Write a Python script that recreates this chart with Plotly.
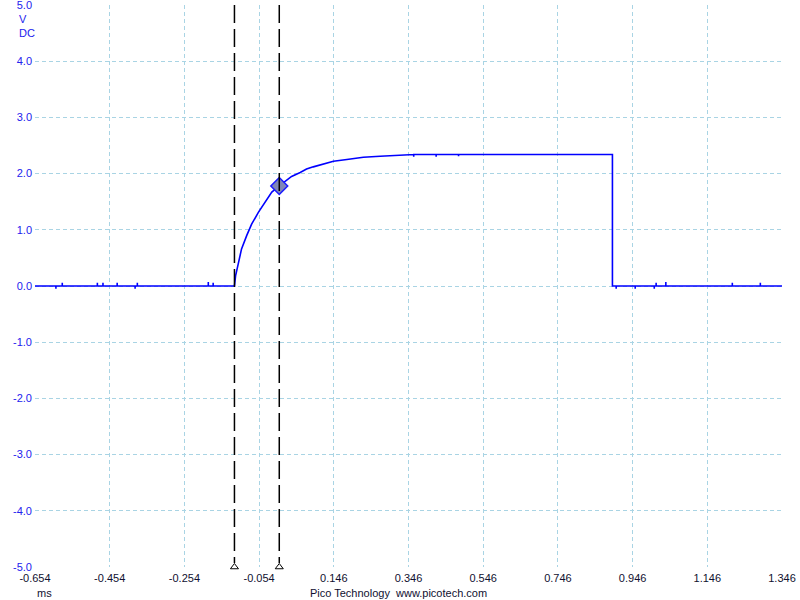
import plotly.graph_objects as go

# ---- data (time in ms, voltage in V) ----
time_ms = [-0.654, -0.598, -0.598, -0.598, -0.581, -0.581, -0.581, -0.487, -0.487, -0.487,
           -0.472, -0.472, -0.472, -0.434, -0.434, -0.434, -0.386, -0.386, -0.386,
           -0.380, -0.380, -0.380, -0.190, -0.190, -0.190, -0.177, -0.177, -0.177,
           -0.120, -0.117, -0.110, -0.101, -0.087, -0.074, -0.056, -0.038, -0.020,
           0.000, 0.015, 0.033, 0.056, 0.073, 0.091, 0.118, 0.145, 0.181, 0.225,
           0.270, 0.314, 0.360, 0.360, 0.360, 0.420, 0.420, 0.420, 0.480, 0.480, 0.480,
           0.892, 0.892, 0.902, 0.902, 0.902, 0.953, 0.953, 0.953, 1.004, 1.004, 1.004,
           1.009, 1.009, 1.009, 1.035, 1.035, 1.035, 1.213, 1.213, 1.213,
           1.288, 1.288, 1.288, 1.346]
volts = [0.0, 0.0, -0.05, 0.0, 0.0, 0.06, 0.0, 0.0, 0.06, 0.0,
         0.0, 0.06, 0.0, 0.0, 0.06, 0.0, 0.0, -0.05, 0.0,
         0.0, 0.06, 0.0, 0.0, 0.07, 0.0, 0.0, 0.06, 0.0,
         0.0, 0.18, 0.39, 0.66, 0.90, 1.10, 1.31, 1.49, 1.67,
         1.78, 1.85, 1.95, 2.02, 2.08, 2.12, 2.17, 2.22, 2.25, 2.29,
         2.31, 2.33, 2.34, 2.30, 2.34, 2.34, 2.30, 2.34, 2.34, 2.31, 2.34,
         2.34, 0.0, 0.0, -0.05, 0.0, 0.0, -0.05, 0.0, 0.0, -0.05, 0.0,
         0.0, 0.06, 0.0, 0.0, 0.07, 0.0, 0.0, 0.06, 0.0,
         0.0, 0.06, 0.0, 0.0]

cursor_times = [-0.120, 0.000]
marker_time = [0.000]
marker_volts = [1.78]

x_ticks = [-0.654, -0.454, -0.254, -0.054, 0.146, 0.346, 0.546, 0.746, 0.946, 1.146, 1.346]
x_tick_labels = ["-0.654", "-0.454", "-0.254", "-0.054", "0.146", "0.346",
                 "0.546", "0.746", "0.946", "1.146", "1.346"]
y_ticks = [5, 4, 3, 2, 1, 0, -1, -2, -3, -4, -5]
y_tick_labels = ["5.0", "4.0", "3.0", "2.0", "1.0", "0.0", "-1.0", "-2.0", "-3.0", "-4.0", "-5.0"]

FONT = "Liberation Sans, Arial, sans-serif"
GRID = "#a9d4e4"

fig = go.Figure()

fig.add_trace(go.Scatter(
    x=time_ms, y=volts, mode="lines",
    line=dict(color="#0000ff", width=1.6),
    hoverinfo="skip", showlegend=False))

fig.add_trace(go.Scatter(
    x=cursor_times, y=[-5.0] * len(cursor_times), mode="markers",
    marker=dict(symbol="triangle-up-open", size=7, color="black", line=dict(width=1)),
    cliponaxis=False, hoverinfo="skip", showlegend=False))

fig.add_trace(go.Scatter(
    x=marker_time, y=marker_volts, mode="markers",
    marker=dict(symbol="diamond", size=13, color="#7f86b8",
                line=dict(color="#1a1aff", width=1.5)),
    hoverinfo="skip", showlegend=False))

for ct in cursor_times:
    fig.add_shape(type="line", xref="x", yref="y", x0=ct, x1=ct, y0=5.0, y1=-4.93,
                  line=dict(color="black", width=1.5, dash="18px,6px"))

fig.update_layout(
    width=800, height=600,
    margin=dict(l=35, r=18, t=5, b=33, autoexpand=False),
    paper_bgcolor="white", plot_bgcolor="white",
    font=dict(family=FONT, size=11, color="black"),
    xaxis=dict(range=[-0.654, 1.346], tickmode="array", tickvals=x_ticks,
               ticktext=x_tick_labels, showgrid=True, gridcolor=GRID,
               griddash="4px,3px", gridwidth=1, zeroline=False, showline=False,
               ticks="", automargin=False, ticklabelstandoff=3,
               ticklabeloverflow="allow",
               tickfont=dict(color="#101030", size=11, family=FONT)),
    yaxis=dict(range=[-5, 5], tickmode="array", tickvals=y_ticks,
               ticktext=y_tick_labels, showgrid=True, gridcolor=GRID,
               griddash="4px,3px", gridwidth=1, zeroline=False, showline=False,
               ticks="", ticklabelstandoff=2, automargin=False,
               ticklabeloverflow="allow",
               tickfont=dict(color="#2222ee", size=11, family=FONT)),
)

fig.add_annotation(text="V", xref="paper", yref="paper", x=-0.0241, y=0.975,
                   xanchor="left", yanchor="middle", showarrow=False,
                   font=dict(color="#2222ee", size=11, family=FONT))
fig.add_annotation(text="DC", xref="paper", yref="paper", x=-0.0241, y=0.95,
                   xanchor="left", yanchor="middle", showarrow=False,
                   font=dict(color="#2222ee", size=11, family=FONT))
fig.add_annotation(text="ms", xref="paper", yref="paper", x=0.0, y=-0.047,
                   xanchor="left", yanchor="middle", showarrow=False,
                   font=dict(color="#101030", size=11, family=FONT))
fig.add_annotation(text="Pico Technology  www.picotech.com", xref="paper", yref="paper",
                   x=0.487, y=-0.047, xanchor="center", yanchor="middle", showarrow=False,
                   font=dict(color="#101030", size=11, family=FONT))

fig.write_html("out.html", config={"displayModeBar": False},
               post_script="document.body.style.margin='0';")
